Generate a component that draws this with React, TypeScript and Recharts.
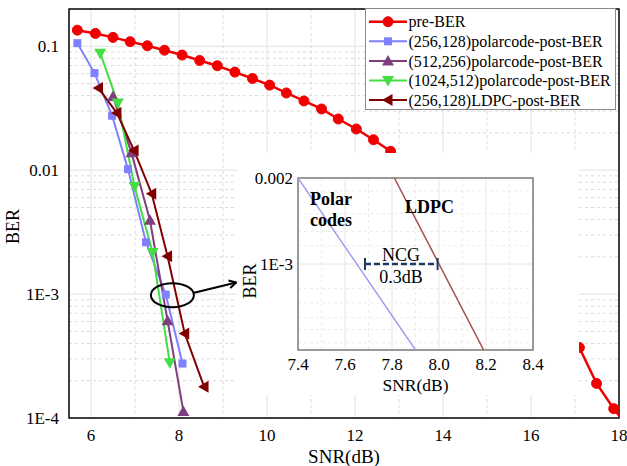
import React from 'react';
import {
  LineChart, Line, XAxis, YAxis, CartesianGrid, Legend,
  ReferenceArea, ReferenceLine, ReferenceDot, Label,
} from 'recharts';

const FONT = '"Liberation Serif", "Times New Roman", serif';

// ---------------- main chart data ----------------
const preBerSnr = [5.69, 6.10, 6.50, 6.89, 7.28, 7.67, 8.07, 8.47, 8.87, 9.27, 9.67, 10.06, 10.44, 10.84, 11.24, 11.62, 12.03, 12.42, 12.81, 13.20, 13.59, 13.98, 14.37, 14.76, 15.15, 15.54, 15.93, 16.32, 16.71, 17.10, 17.49, 17.88, 18.27];
const preBerBer = [0.135, 0.127, 0.118, 0.109, 0.101, 0.093, 0.085, 0.0768, 0.0697, 0.0619, 0.055, 0.0486, 0.042, 0.0362, 0.0312, 0.0259, 0.0215, 0.0176, 0.0142, 0.0113, 0.0088, 0.0067, 0.0050, 0.0037, 0.0027, 0.0019, 0.00132, 0.00090, 0.00061, 0.00037, 0.000190, 0.000119, 0.000079];

const polar256Snr = [5.69, 6.08, 6.48, 6.84, 7.25, 7.70, 8.08];
const polar256Ber = [0.106, 0.0608, 0.0275, 0.0102, 0.00262, 0.00099, 0.000275];

const polar512Snr = [6.50, 6.92, 7.34, 7.74, 8.10];
const polar512Ber = [0.0394, 0.0138, 0.00394, 0.00061, 0.000113];

const polar1024Snr = [6.21, 6.61, 6.99, 7.40, 7.79];
const polar1024Ber = [0.088, 0.0348, 0.0074, 0.00217, 0.000279];

const ldpcSnr = [6.17, 6.59, 6.98, 7.38, 7.74, 8.13, 8.57];
const ldpcBer = [0.046, 0.0289, 0.0144, 0.00646, 0.00202, 0.00048, 0.000179];

const seriesNames = [
  'pre-BER',
  '(256,128)polarcode-post-BER',
  '(512,256)polarcode-post-BER',
  '(1024,512)polarcode-post-BER',
  '(256,128)LDPC-post-BER',
];

const xTicks = [6, 8, 10, 12, 14, 16, 18];
const yTicks = [1e-4, 1e-3, 1e-2, 1e-1];
const yTickLabels = ['1E-4', '1E-3', '0.01', '0.1'];
const xMajorGrid = [6, 8, 10, 12, 14, 16];
const xMinorGrid = [7, 9, 11, 13, 15, 17];
const yMajorGrid = [1e-3, 1e-2, 1e-1];
const yMinorGrid = [
  2e-4, 3e-4, 4e-4, 5e-4, 6e-4, 7e-4, 8e-4, 9e-4,
  2e-3, 3e-3, 4e-3, 5e-3, 6e-3, 7e-3, 8e-3, 9e-3,
  2e-2, 3e-2, 4e-2, 5e-2, 6e-2, 7e-2, 8e-2, 9e-2,
];

// annotation anchors (data space)
const ellipseAt = { x: 7.85, y: 9.8e-4 };
const arrowFrom = { x: 8.32, y: 1.02e-3 };
const arrowTo = { x: 9.3, y: 1.24e-3 };

// ---------------- inset data ----------------
const insetPolarSnr = [7.40, 7.90];
const insetPolarBer = [0.002, 0.0005];
const insetLdpcSnr = [7.81, 8.19];
const insetLdpcBer = [0.002, 0.0005];
const insetXTicks = [7.4, 7.6, 7.8, 8.0, 8.2, 8.4];
const insetYTicks = [1e-3, 2e-3];
const insetYTickLabels = ['1E-3', '0.002'];
const insetXMajorGrid = [7.6, 7.8, 8.0, 8.2];
const insetXMinorGrid = [7.5, 7.7, 7.9, 8.1, 8.3];
const insetYMajorGrid = [1e-3];
const insetYMinorGrid = [0.0018, 0.0015, 0.0013, 0.00116, 0.00082, 0.00073, 0.00065, 0.00059, 0.00053];
const ncgFrom = { x: 7.685, y: 1e-3 };
const ncgTo = { x: 7.994, y: 1e-3 };
const insetTexts = [
  { x: 7.451, y: 1.69e-3, text: 'Polar', bold: true, anchor: 'start' },
  { x: 7.451, y: 1.43e-3, text: 'codes', bold: true, anchor: 'start' },
  { x: 7.855, y: 1.59e-3, text: 'LDPC', bold: true, anchor: 'start' },
  { x: 7.838, y: 1.08e-3, text: 'NCG', bold: false, anchor: 'middle' },
  { x: 7.838, y: 9.0e-4, text: '0.3dB', bold: false, anchor: 'middle' },
];

const zip = (xs: number[], ys: number[]) => xs.map((x, i) => ({ x, y: ys[i] }));

type Marker = 'circle' | 'square' | 'up' | 'down' | 'left';

const SERIES: { name: string; data: { x: number; y: number }[]; color: string; width: number; marker: Marker }[] = [
  { name: seriesNames[0], data: zip(preBerSnr, preBerBer), color: '#f00000', width: 2.5, marker: 'circle' },
  { name: seriesNames[1], data: zip(polar256Snr, polar256Ber), color: '#8080ff', width: 2, marker: 'square' },
  { name: seriesNames[2], data: zip(polar512Snr, polar512Ber), color: '#7f3f7f', width: 2, marker: 'up' },
  { name: seriesNames[3], data: zip(polar1024Snr, polar1024Ber), color: '#44dd44', width: 2, marker: 'down' },
  { name: seriesNames[4], data: zip(ldpcSnr, ldpcBer), color: '#800000', width: 2, marker: 'left' },
];

function drawMarker(kind: Marker, cx: number, cy: number, color: string, key?: any) {
  if (cx == null || cy == null || isNaN(cx) || isNaN(cy)) return <g key={key} />;
  switch (kind) {
    case 'circle':
      return <circle key={key} cx={cx} cy={cy} r={5} fill={color} stroke={color} />;
    case 'square':
      return <rect key={key} x={cx - 4} y={cy - 4} width={8} height={8} fill={color} />;
    case 'up':
      return <polygon key={key} points={`${cx},${cy - 6} ${cx + 6},${cy + 4.5} ${cx - 6},${cy + 4.5}`} fill={color} />;
    case 'down':
      return <polygon key={key} points={`${cx},${cy + 6} ${cx + 6},${cy - 4.5} ${cx - 6},${cy - 4.5}`} fill={color} />;
    case 'left':
    default:
      return <polygon key={key} points={`${cx - 6},${cy} ${cx + 4.5},${cy - 6} ${cx + 4.5},${cy + 6}`} fill={color} />;
  }
}

const labelFor = (v: number, ticks: number[], labels: string[]) => {
  let best = 0;
  ticks.forEach((t, i) => {
    if (Math.abs(Math.log10(t) - Math.log10(v)) < Math.abs(Math.log10(ticks[best]) - Math.log10(v))) best = i;
  });
  return labels[best];
};

function LegendBox() {
  return (
    <svg width={251} height={102} style={{ display: 'block' }}>
      <rect x={0.5} y={0.5} width={250} height={101} fill="#fff" stroke="#8a8a8a" strokeWidth={1} />
      {SERIES.map((s, i) => {
        const cy = 13.7 + i * 19.6;
        return (
          <g key={s.name}>
            <line x1={4} x2={42} y1={cy} y2={cy} stroke={s.color} strokeWidth={s.width} />
            {drawMarker(s.marker, 23, cy, s.color)}
            <text x={43.5} y={cy} dy="0.35em" fontSize={16} fontFamily={FONT} fill="#000">{s.name}</text>
          </g>
        );
      })}
    </svg>
  );
}

const ArrowShape = (p: any) => {
  const { x1, y1, x2, y2 } = p;
  const a = Math.atan2(y2 - y1, x2 - x1);
  const L = 8;
  const w = 0.5;
  const ax = x2 - L * Math.cos(a - w), ay = y2 - L * Math.sin(a - w);
  const bx = x2 - L * Math.cos(a + w), by = y2 - L * Math.sin(a + w);
  return (
    <g>
      <line x1={x1} y1={y1} x2={x2} y2={y2} stroke="#000" strokeWidth={2} />
      <polyline points={`${ax},${ay} ${x2},${y2} ${bx},${by}`} fill="none" stroke="#000" strokeWidth={2} />
    </g>
  );
};

const NcgShape = (p: any) => {
  const { x1, y1, x2, y2 } = p;
  const c = '#203864';
  return (
    <g>
      <line x1={x1} y1={y1} x2={x2} y2={y2} stroke={c} strokeWidth={2.5} strokeDasharray="6 3" />
      <line x1={x1} y1={y1 - 6} x2={x1} y2={y1 + 6} stroke={c} strokeWidth={2} />
      <line x1={x2} y1={y2 - 6} x2={x2} y2={y2 + 6} stroke={c} strokeWidth={2} />
    </g>
  );
};

const tickStyle = { fontSize: 17, fill: '#000', fontFamily: FONT };

function Inset() {
  return (
    <div style={{ position: 'absolute', left: 237, top: 153, width: 342, height: 242, background: '#fff' }}>
      <LineChart width={342} height={242} margin={{ top: 25, right: 46, left: 11, bottom: 0 }}>
        <CartesianGrid stroke="#e6e6e6" strokeWidth={1} verticalValues={insetXMajorGrid} horizontalValues={insetYMajorGrid} />
        <CartesianGrid stroke="#ececec" strokeWidth={1} strokeDasharray="3 3" verticalValues={insetXMinorGrid} horizontalValues={insetYMinorGrid} />
        <XAxis
          type="number" dataKey="x" domain={[7.4, 8.4]} ticks={insetXTicks} allowDataOverflow
          tickFormatter={(v: number) => v.toFixed(1)} tickLine={false} axisLine={false}
          tickSize={0} tickMargin={8} height={45} tick={tickStyle} interval={0}
        >
          <Label value="SNR(dB)" position="insideBottom" offset={4} fontSize={17.5} fontFamily={FONT} fill="#000" />
        </XAxis>
        <YAxis
          type="number" dataKey="y" scale="log" domain={[5e-4, 2e-3]} ticks={insetYTicks} allowDataOverflow
          tickFormatter={(v: number) => labelFor(v, insetYTicks, insetYTickLabels)} tickLine={false} axisLine={false}
          tickSize={0} tickMargin={5} width={50} tick={tickStyle} interval={0}
        >
          <Label value="BER" position="center" angle={-90} dx={-23} dy={17} fontSize={18} fontFamily={FONT} fill="#000" />
        </YAxis>
        <ReferenceArea x1={7.4} x2={8.4} y1={5e-4} y2={2e-3} fill="none" stroke="#7a7a7a" strokeWidth={1.5} />
        <Line data={zip(insetPolarSnr, insetPolarBer)} dataKey="y" type="linear" stroke="#9a9aee" strokeWidth={1.4} dot={false} activeDot={false} isAnimationActive={false} />
        <Line data={zip(insetLdpcSnr, insetLdpcBer)} dataKey="y" type="linear" stroke="#a5504f" strokeWidth={1.5} dot={false} activeDot={false} isAnimationActive={false} />
        <ReferenceLine segment={[ncgFrom, ncgTo]} shape={NcgShape} />
        {insetTexts.map((t) => (
          <ReferenceDot
            key={t.text}
            x={t.x}
            y={t.y}
            r={0}
            shape={(p: any) => (
              <text x={p.cx} y={p.cy} dy="0.35em" textAnchor={t.anchor} fontSize={18} fontWeight={t.bold ? 'bold' : 'normal'} fontFamily={FONT} fill="#000">{t.text}</text>
            )}
          />
        ))}
      </LineChart>
    </div>
  );
}

export default function App() {
  return (
    <div style={{ position: 'absolute', left: 0, top: 0, width: 627, height: 466, background: '#fff', fontFamily: FONT }}>
      <LineChart width={627} height={466} margin={{ top: 9, right: 8, left: 9, bottom: 0 }}>
        <CartesianGrid stroke="#e2e2e2" strokeWidth={1} verticalValues={xMajorGrid} horizontalValues={yMajorGrid} />
        <CartesianGrid stroke="#dadada" strokeWidth={1} strokeDasharray="3 3" verticalValues={xMinorGrid} horizontalValues={yMinorGrid} />
        <XAxis
          type="number" dataKey="x" domain={[5.5, 18]} ticks={xTicks} allowDataOverflow
          tickLine={false} axisLine={false} tickSize={0} tickMargin={11} height={48} tick={tickStyle} interval={0}
        >
          <Label value="SNR(dB)" position="insideBottom" offset={3} fontSize={19} fontFamily={FONT} fill="#000" />
        </XAxis>
        <YAxis
          type="number" dataKey="y" scale="log" domain={[1e-4, 0.2]} ticks={yTicks} allowDataOverflow
          tickFormatter={(v: number) => labelFor(v, yTicks, yTickLabels)} tickLine={false} axisLine={false}
          tickSize={0} tickMargin={10} width={60} tick={tickStyle} interval={0}
        >
          <Label value="BER" position="center" angle={-90} dx={-26.5} dy={13} fontSize={18} fontFamily={FONT} fill="#000" />
        </YAxis>
        <ReferenceArea x1={5.5} x2={18} y1={1e-4} y2={0.2} fill="none" stroke="#000" strokeWidth={1.5} />
        {SERIES.map((s) => (
          <Line
            key={s.name}
            name={s.name}
            data={s.data}
            dataKey="y"
            type="linear"
            stroke={s.color}
            strokeWidth={s.width}
            dot={(p: any) => drawMarker(s.marker, p.cx, p.cy, s.color, `${s.name}-${p.index}`)}
            activeDot={false}
            isAnimationActive={false}
          />
        ))}
        <ReferenceDot
          x={ellipseAt.x}
          y={ellipseAt.y}
          r={0}
          shape={(p: any) => <ellipse cx={p.cx} cy={p.cy} rx={21.5} ry={12} fill="none" stroke="#000" strokeWidth={2} />}
        />
        <ReferenceLine segment={[arrowFrom, arrowTo]} shape={ArrowShape} />
        <Legend
          layout="vertical"
          align="center"
          verticalAlign="middle"
          content={() => <LegendBox />}
          wrapperStyle={{ left: 365, top: 8, width: 251, height: 102 }}
        />
      </LineChart>
      <Inset />
    </div>
  );
}
